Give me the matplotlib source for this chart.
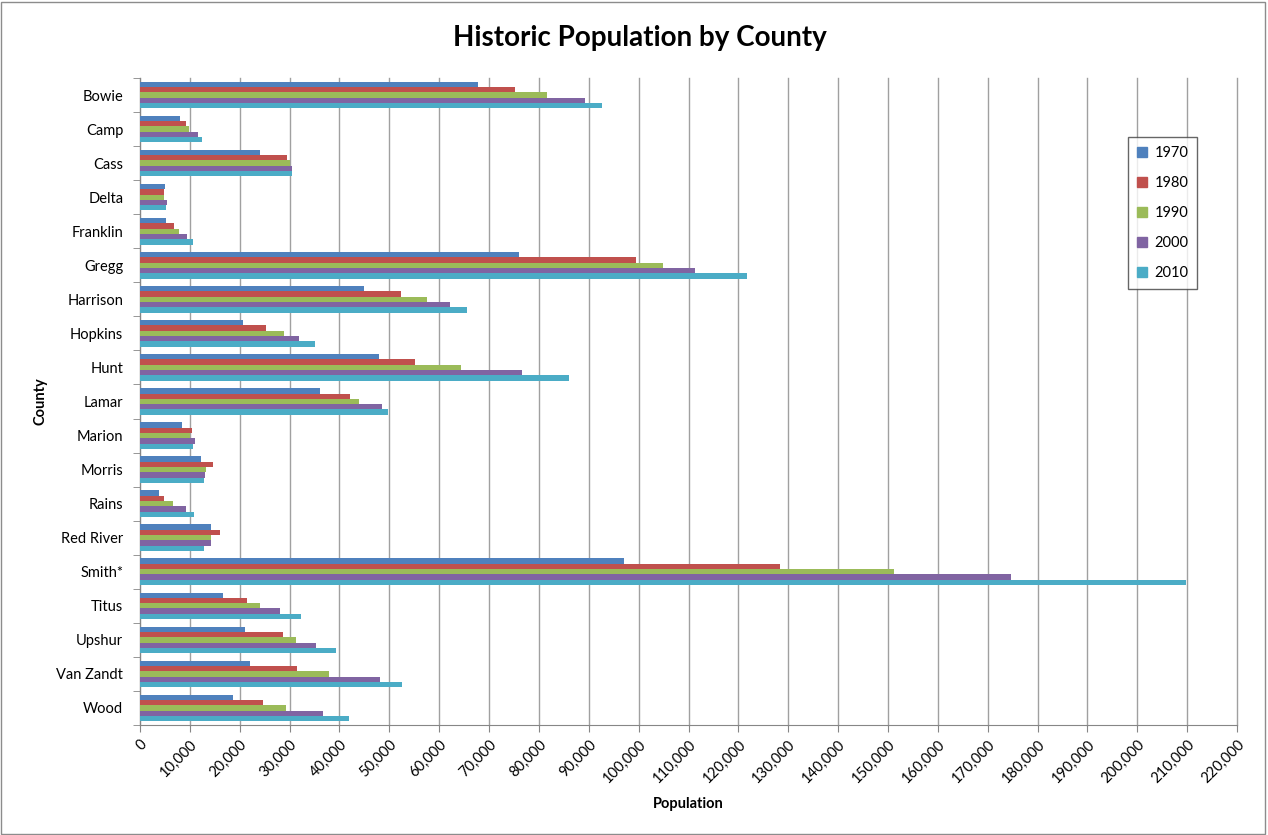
import numpy as np
import matplotlib.pyplot as plt
from matplotlib.patches import Patch, Rectangle

plt.rcParams['font.family'] = ['Lato', 'DejaVu Sans']

counties = ['Bowie', 'Camp', 'Cass', 'Delta', 'Franklin', 'Gregg', 'Harrison',
            'Hopkins', 'Hunt', 'Lamar', 'Marion', 'Morris', 'Rains', 'Red River',
            'Smith*', 'Titus', 'Upshur', 'Van Zandt', 'Wood']
years = ['1970', '1980', '1990', '2000', '2010']

pop_1970 = [67813, 8005, 24133, 4927, 5291, 75929, 44841, 20710, 47948, 36062,
            8517, 12310, 3752, 14298, 97096, 16702, 20976, 22155, 18589]
pop_1980 = [75301, 9275, 29430, 4839, 6893, 99487, 52265, 25247, 55248, 42156,
            10360, 14629, 4839, 16101, 128366, 21442, 28595, 31426, 24697]
pop_1990 = [81665, 9904, 29982, 4857, 7802, 104948, 57483, 28833, 64343, 43949,
            9984, 13200, 6715, 14317, 151309, 24009, 31370, 37944, 29380]
pop_2000 = [89306, 11549, 30438, 5327, 9458, 111379, 62110, 31960, 76596, 48499,
            10941, 13048, 9139, 14314, 174706, 28118, 35291, 48140, 36752]
pop_2010 = [92565, 12401, 30464, 5231, 10605, 121730, 65631, 35161, 86129, 49793,
            10546, 12934, 10914, 12860, 209714, 32334, 39309, 52579, 41964]

series = [pop_1970, pop_1980, pop_1990, pop_2000, pop_2010]
colors = ['#4F81BD', '#C0504D', '#9BBB59', '#8064A2', '#4BACC6']

fig = plt.figure(figsize=(12.68, 8.35), dpi=100)
ax = fig.add_axes([140 / 1268, 1 - 725 / 835, 1097 / 1268, 647 / 835])

# outer chart border
fig.patches.append(Rectangle((0.001, 0.001), 0.997, 0.997, transform=fig.transFigure,
                             fill=False, edgecolor='#8c8c8c', linewidth=1))

y = np.arange(len(counties))
h = 0.156
for j, (vals, c) in enumerate(zip(series, colors)):
    ax.barh(y + (j - 2) * h, vals, height=h, color=c, zorder=3)

ax.set_ylim(len(counties) - 0.5, -0.5)
ax.set_xlim(0, 220000)
ax.set_xticks(np.arange(0, 220001, 10000))
ax.set_xticklabels([f'{v:,}' for v in range(0, 220001, 10000)], rotation=45,
                   ha='right', rotation_mode='anchor', fontsize=10.5)
ax.grid(axis='x', color='#a0a0a0', linewidth=1, zorder=0)
for gl in ax.get_xgridlines():
    gl.set_clip_on(False)

ax.set_yticks(y)
ax.set_yticklabels(counties, fontsize=10.5)
ax.set_yticks(np.arange(-0.5, len(counties), 1), minor=True)
ax.tick_params(axis='y', which='major', length=0, pad=12)
ax.tick_params(axis='y', which='minor', length=5, color='#868686')
ax.tick_params(axis='x', length=5, color='#868686', pad=4)

for s in ['top', 'right']:
    ax.spines[s].set_visible(False)
for s in ['left', 'bottom']:
    ax.spines[s].set_color('#868686')

ax.set_xlabel('Population', fontsize=10.5, fontweight='bold', labelpad=8)
ax.set_ylabel('County', fontsize=10.5, fontweight='bold')
ax.yaxis.set_label_coords(-0.084, 0.5)
fig.suptitle('Historic Population by County', x=0.505, fontsize=20, fontweight='bold', y=0.97)

handles = [Patch(color=c) for c in colors]
leg = ax.legend(handles, years, loc='upper left', bbox_to_anchor=(1128 / 1268, 1 - 137 / 835),
                bbox_transform=fig.transFigure, fontsize=10.5, frameon=True, fancybox=False,
                handlelength=0.7, handleheight=0.7, handletextpad=0.5, labelspacing=1.1,
                borderpad=0.6, borderaxespad=0)
leg.get_frame().set_edgecolor('#404040')
leg.get_frame().set_linewidth(1)

fig.savefig('out.png', dpi=100)
